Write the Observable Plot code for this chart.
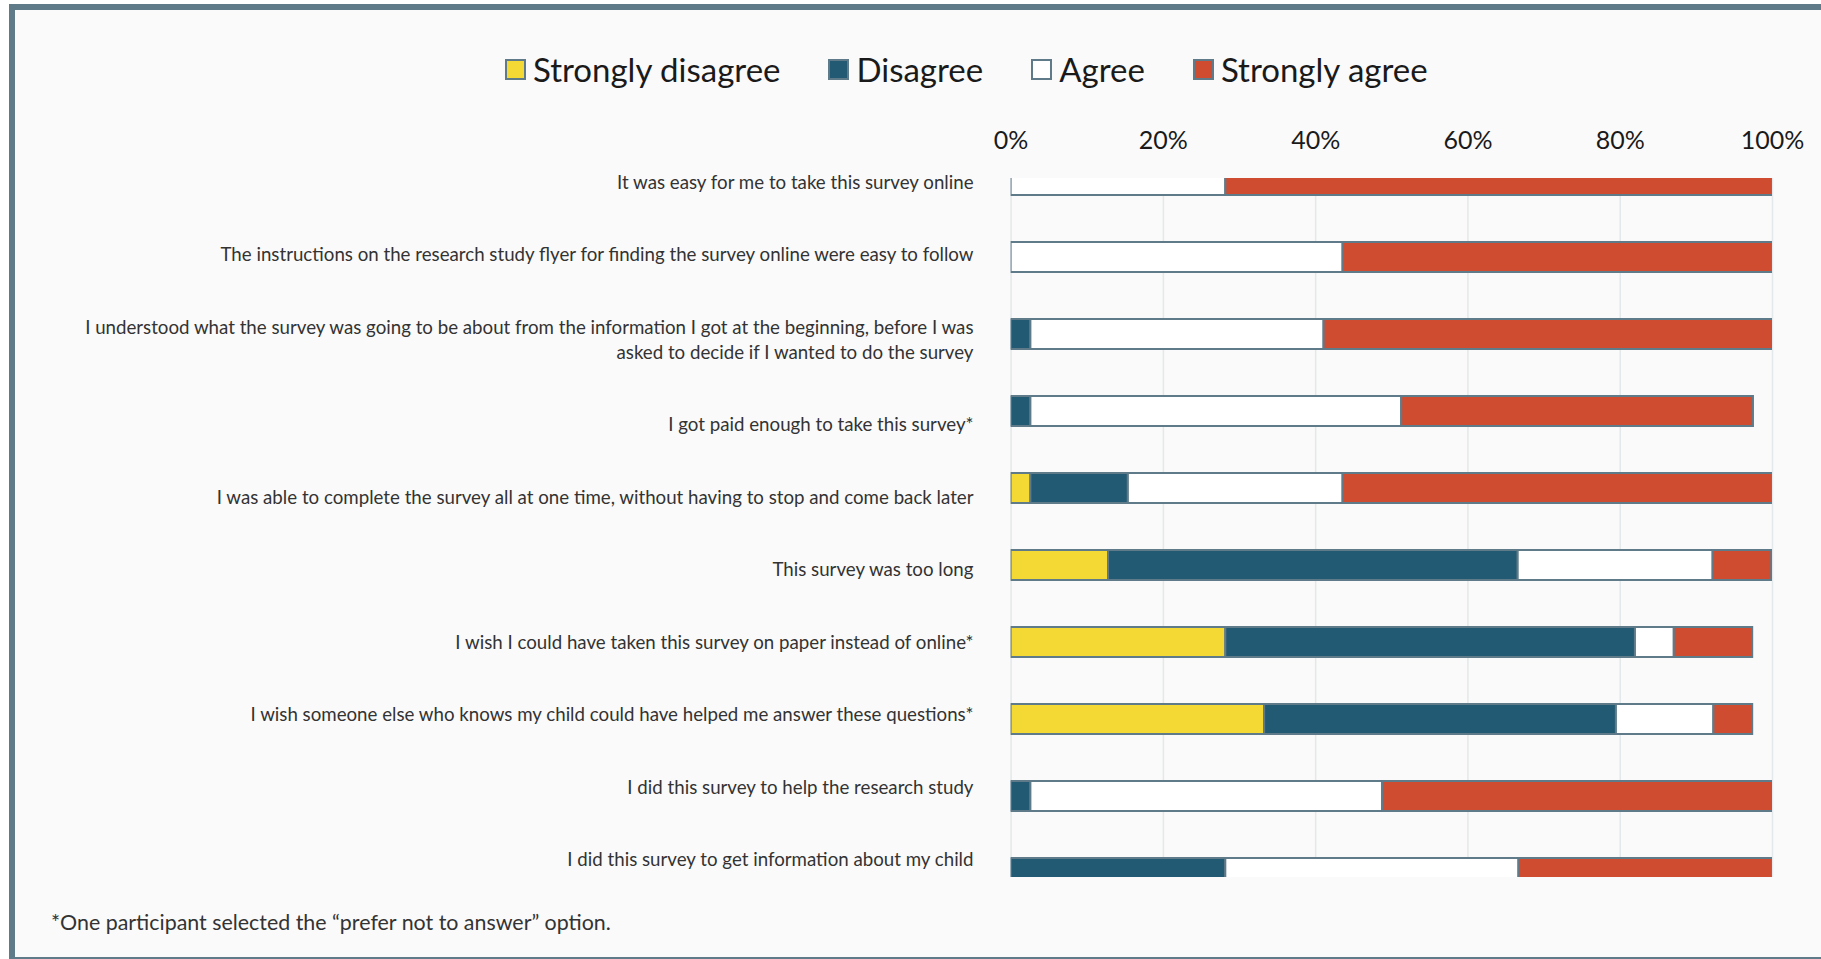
<!DOCTYPE html>
<html>
<head>
<meta charset="utf-8">
<script src="https://cdn.jsdelivr.net/npm/d3@7"></script>
<script src="https://cdn.jsdelivr.net/npm/@observablehq/plot@0.6"></script>
<style>
  html, body { margin: 0; padding: 0; background: #ffffff; }
  #page { position: relative; width: 1821px; height: 959px; overflow: hidden; font-family: Lato, "Open Sans", sans-serif; }
  #box { position: absolute; left: 9px; top: 4px; right: 0; bottom: 0; background: #fafafa;
         border-left: 6px solid #5f7a88; border-top: 6px solid #5f7a88; border-bottom: 2px solid #5f7a88; }
  #legend { position: absolute; left: 505px; top: 53px; display: flex; align-items: center; }
  .item { display: flex; align-items: center; margin-right: 48px; }
  .sw { width: 17px; height: 17px; border: 2px solid #5f7a88; margin-right: 7px; }
  .lab { font-size: 33px; line-height: 1; color: #1a1a1a; }
  #labels { position: absolute; left: 0; top: 99px; }
  #bars { position: absolute; left: 980px; top: 100px; }
  #caption { position: absolute; left: 51px; top: 912px; font-size: 21.4px; line-height: 1; color: #333333; }
</style>
</head>
<body>
<div id="page">
  <div id="box"></div>
  <div id="legend"></div>
  <div id="labels"></div>
  <div id="bars"></div>
  <div id="caption"></div>
</div>
<script>
// ---- data ----
const questions = [
  "It was easy for me to take this survey online",
  "The instructions on the research study flyer for finding the survey online were easy to follow",
  "I understood what the survey was going to be about from the information I got at the beginning, before I was\nasked to decide if I wanted to do the survey",
  "I got paid enough to take this survey*",
  "I was able to complete the survey all at one time, without having to stop and come back later",
  "This survey was too long",
  "I wish I could have taken this survey on paper instead of online*",
  "I wish someone else who knows my child could have helped me answer these questions*",
  "I did this survey to help the research study",
  "I did this survey to get information about my child"
];
const responses = ["Strongly disagree", "Disagree", "Agree", "Strongly agree"];
const responseColors = ["#f4d935", "#215a72", "#ffffff", "#cf4c31"];
// percent of respondents per question
const stronglyDisagree = [0, 0, 0, 0, 2.6, 12.8, 28.2, 33.3, 0, 0];
const disagree         = [0, 0, 2.6, 2.6, 12.8, 53.8, 53.8, 46.2, 2.6, 28.2];
const agree            = [28.2, 43.6, 38.5, 48.7, 28.2, 25.6, 5.1, 12.8, 46.2, 38.5];
const stronglyAgree    = [71.8, 56.4, 59.0, 46.2, 56.4, 7.7, 10.3, 5.1, 51.3, 33.3];
const xTicks = [0, 20, 40, 60, 80, 100];
const captionText = "*One participant selected the \u201Cprefer not to answer\u201D option.";

// ---- build rows ----
const series = [stronglyDisagree, disagree, agree, stronglyAgree];
const rows = [];
questions.forEach((q, i) => {
  responses.forEach((r, j) => {
    const v = series[j][i];
    if (v > 0) rows.push({q, r, v});
  });
});

const stroke = "#5f7a88";
const font = "Lato, 'Open Sans', sans-serif";

// ---- legend ----
const legend = document.getElementById("legend");
responses.forEach((r, j) => {
  const it = document.createElement("div");
  it.className = "item";
  const sw = document.createElement("div");
  sw.className = "sw";
  sw.style.background = responseColors[j];
  const lb = document.createElement("span");
  lb.className = "lab";
  lb.textContent = r;
  it.append(sw, lb);
  legend.append(it);
});

// ---- question labels (stacked text blocks) ----
const GAP = 1.9; // gap between label blocks, in line units
const labelRows = questions.map(q => ({q, lines: q.split("\n").length}));
const totalUnits = d3.sum(labelRows, d => d.lines + GAP);
const labelsPlot = Plot.plot({
  width: 980, height: 790,
  marginTop: 0, marginBottom: 0, marginLeft: 0, marginRight: 7,
  style: {background: "transparent", fontFamily: font},
  y: {domain: [0, totalUnits], range: [44.75, 44.75 + totalUnits * 25], axis: null},
  marks: [
    Plot.text(labelRows, Plot.stackY({
      y: d => d.lines + GAP, text: "q",
      frameAnchor: "right", textAnchor: "end", lineAnchor: "middle",
      fontSize: 18.7, lineHeight: 25 / 18.7, fill: "#333333"
    }))
  ]
});
document.getElementById("labels").append(labelsPlot);

// ---- bars ----
const barsPlot = Plot.plot({
  width: 841, height: 790,
  marginLeft: 30.6, marginRight: 49, marginTop: 78, marginBottom: 13,
  style: {background: "transparent", fontFamily: font, color: "#1a1a1a"},
  x: {domain: [0, 100]},
  y: {type: "band", domain: questions, range: [24.1, 828.2], paddingInner: 0.6125, paddingOuter: 0.5, axis: null},
  color: {domain: responses, range: responseColors},
  marks: [
    Plot.gridX({ticks: xTicks, stroke: "#e3e8ea", strokeOpacity: 1, strokeWidth: 1.5}),
    Plot.barX(rows, Plot.stackX({
      x: "v", y: "q", fill: "r",
      stroke: stroke, strokeWidth: 2, clip: true
    })),
    Plot.axisX({anchor: "top", ticks: xTicks, tickSize: 0, tickPadding: 30, fontSize: 25,
                tickFormat: d => d + "%", label: null, fill: "#1a1a1a"})
  ]
});
document.getElementById("bars").append(barsPlot);

document.getElementById("caption").textContent = captionText;
</script>
</body>
</html>
